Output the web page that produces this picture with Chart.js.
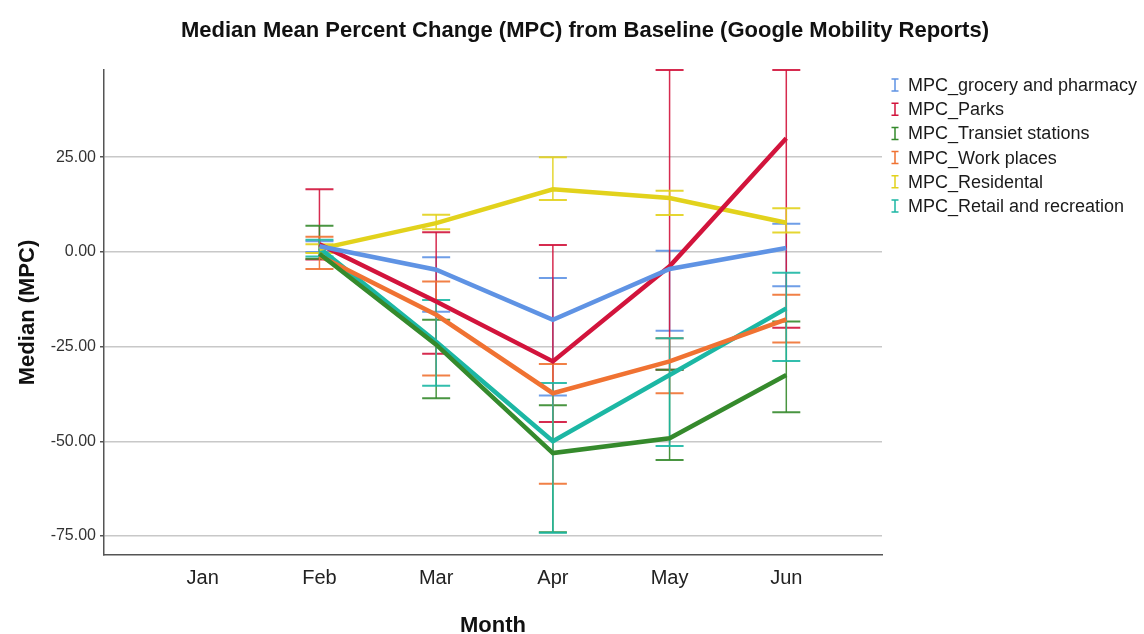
<!DOCTYPE html>
<html>
<head>
<meta charset="utf-8">
<script src="https://cdn.jsdelivr.net/npm/chart.js@4.4.0/dist/chart.umd.min.js"></script>
<style>
  html, body { margin: 0; padding: 0; background: #ffffff; }
  #wrap { width: 1144px; height: 634px; position: relative; }
</style>
</head>
<body>
<div id="wrap"><canvas id="c" width="1144" height="634"></canvas></div>
<script>
// ---- data ----
const months = ['Jan', 'Feb', 'Mar', 'Apr', 'May', 'Jun'];
const seriesNames = ['MPC_grocery and pharmacy', 'MPC_Parks', 'MPC_Transiet stations', 'MPC_Work places', 'MPC_Residental', 'MPC_Retail and recreation'];
const yTicks = [25, 0, -25, -50, -75];
const chartTitle = 'Median Mean Percent Change (MPC) from Baseline (Google Mobility Reports)';

const grocery      = [null, 1.5, -4.7, -17.9, -4.5, 1.0];
const groceryHigh  = [null, 2.8, -1.4, -6.9, 0.3, 7.4];
const groceryLow   = [null, 0.0, -15.8, -37.9, -20.8, -9.1];

const parks        = [null, 2.0, -13.1, -28.9, -3.8, 30.0];
const parksHigh    = [null, 16.5, 5.2, 1.8, 48.0, 48.0];
const parksLow     = [null, -2.0, -26.9, -44.9, -31.1, -20.0];

const transit      = [null, -0.5, -24.5, -53.1, -49.2, -32.5];
const transitHigh  = [null, 6.9, -17.9, -40.5, -31.1, -18.4];
const transitLow   = [null, -1.8, -38.6, -74.0, -54.9, -42.3];

const work         = [null, -1.0, -16.6, -37.3, -28.9, -17.8];
const workHigh     = [null, 4.0, -7.8, -29.6, -22.8, -11.3];
const workLow      = [null, -4.5, -32.6, -61.2, -37.3, -23.9];

const residental     = [null, 0.8, 7.6, 16.5, 14.2, 7.7];
const residentalHigh = [null, 2.0, 9.8, 25.0, 16.1, 11.5];
const residentalLow  = [null, -0.3, 6.0, 13.7, 9.7, 5.1];

const retail       = [null, 1.0, -23.7, -50.0, -32.5, -14.9];
const retailHigh   = [null, 3.2, -12.7, -34.6, -22.8, -5.5];
const retailLow    = [null, -1.2, -35.3, -74.1, -51.2, -28.8];

const colors = ['#5f93e4', '#d2143c', '#358a2c', '#f07232', '#e2d21c', '#1cb7a4'];

const series = [
  [grocery, groceryHigh, groceryLow],
  [parks, parksHigh, parksLow],
  [transit, transitHigh, transitLow],
  [work, workHigh, workLow],
  [residental, residentalHigh, residentalLow],
  [retail, retailHigh, retailLow]
];

const FONT = "Arial, 'Liberation Sans', sans-serif";

const datasets = series.map((s, i) => ({
  label: seriesNames[i],
  data: s[0].map((v, k) => ({ x: k, y: v })),
  high: s[1],
  low: s[2],
  borderColor: colors[i],
  backgroundColor: colors[i],
  borderWidth: 4.5,
  pointRadius: 0,
  pointHoverRadius: 0,
  tension: 0,
  spanGaps: false,
  fill: false
}));

// error bars drawn through the chart's scales
const errorBars = {
  id: 'errorBars',
  beforeDatasetsDraw(chart) {
    const ctx = chart.ctx;
    const xs = chart.scales.x, ys = chart.scales.y;
    chart.data.datasets.forEach((ds) => {
      ds.data.forEach((p, k) => {
        const hi = ds.high[k], lo = ds.low[k];
        if (hi == null || lo == null) return;
        const x = xs.getPixelForValue(p.x);
        const yh = ys.getPixelForValue(hi);
        const yl = ys.getPixelForValue(lo);
        ctx.save();
        ctx.strokeStyle = ds.borderColor;
        ctx.globalAlpha = 0.9;
        ctx.lineWidth = 1.5;
        ctx.beginPath();
        ctx.moveTo(x, yh); ctx.lineTo(x, yl);
        ctx.stroke();
        ctx.lineWidth = 2;
        ctx.beginPath();
        ctx.moveTo(x - 14, yh); ctx.lineTo(x + 14, yh);
        ctx.moveTo(x - 14, yl); ctx.lineTo(x + 14, yl);
        ctx.stroke();
        ctx.restore();
      });
    });
  }
};

// title centred over the whole figure
const figTitle = {
  id: 'figTitle',
  afterDraw(chart) {
    const ctx = chart.ctx;
    ctx.save();
    ctx.fillStyle = '#111';
    ctx.font = 'bold 22px ' + FONT;
    ctx.textAlign = 'center';
    ctx.textBaseline = 'middle';
    ctx.fillText(chartTitle, 585, 31);
    ctx.restore();
  }
};

// legend with error-bar glyphs
const sideLegend = {
  id: 'sideLegend',
  afterDraw(chart) {
    const ctx = chart.ctx;
    const x0 = 895, y0 = 85, step = 24.2;
    chart.data.datasets.forEach((ds, i) => {
      const y = y0 + i * step;
      ctx.save();
      ctx.strokeStyle = ds.borderColor;
      ctx.lineWidth = 1.5;
      ctx.beginPath();
      ctx.moveTo(x0, y - 6); ctx.lineTo(x0, y + 6);
      ctx.moveTo(x0 - 3.5, y - 6); ctx.lineTo(x0 + 3.5, y - 6);
      ctx.moveTo(x0 - 3.5, y + 6); ctx.lineTo(x0 + 3.5, y + 6);
      ctx.stroke();
      ctx.fillStyle = '#1a1a1a';
      ctx.font = '18px ' + FONT;
      ctx.textBaseline = 'middle';
      ctx.textAlign = 'left';
      ctx.fillText(ds.label, 908, y + 1);
      ctx.restore();
    });
  }
};

new Chart(document.getElementById('c'), {
  type: 'line',
  data: { datasets },
  plugins: [errorBars, sideLegend, figTitle],
  options: {
    responsive: false,
    animation: false,
    events: [],
    layout: { padding: { left: 0, right: 262, top: 70, bottom: 0 } },
    plugins: {
      legend: { display: false },
      tooltip: { enabled: false },
      title: { display: false }
    },
    scales: {
      x: {
        type: 'linear',
        min: -0.846,
        max: 5.82,
        afterBuildTicks(scale) { scale.ticks = months.map((m, i) => ({ value: i })); },
        afterFit(scale) { scale.height = 79; },
        ticks: {
          callback: (v) => months[v],
          color: '#222',
          font: { family: FONT, size: 20 },
          padding: 11,
          maxRotation: 0,
          autoSkip: false
        },
        grid: { display: false, drawTicks: false },
        border: { display: true, color: '#555', width: 1.5 },
        title: {
          display: true,
          text: 'Month',
          color: '#111',
          font: { family: FONT, size: 22, weight: 'bold', lineHeight: 0.7 },
          padding: { top: 0, bottom: 0 }
        }
      },
      y: {
        min: -80,
        max: 48,
        afterBuildTicks(scale) { scale.ticks = yTicks.map(v => ({ value: v })); },
        afterFit(scale) { scale.width = 104; },
        ticks: {
          callback: (v) => v.toFixed(2),
          color: '#333',
          font: { family: FONT, size: 16 },
          padding: 4
        },
        grid: {
          color: '#c8c8c8',
          lineWidth: 1.5,
          drawTicks: true,
          tickLength: 4,
          tickColor: '#555'
        },
        border: { display: true, color: '#555', width: 1.5 },
        title: {
          display: true,
          text: 'Median (MPC)',
          color: '#111',
          font: { family: FONT, size: 22, weight: 'bold', lineHeight: 1.0 },
          padding: { top: 17, bottom: 0 }
        }
      }
    }
  }
});
</script>
</body>
</html>
